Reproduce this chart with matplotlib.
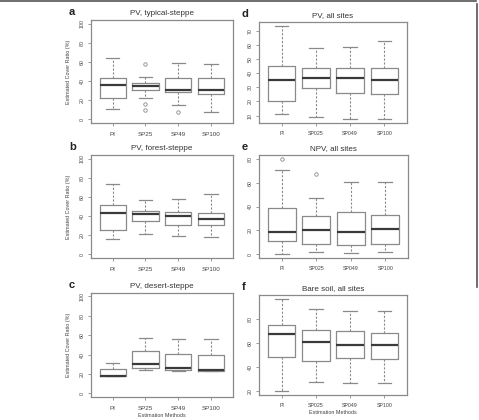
import matplotlib
matplotlib.use("Agg")
import matplotlib.pyplot as plt
from matplotlib.lines import Line2D

plt.rcParams["font.family"] = ["Liberation Sans", "DejaVu Sans"]

# box stats: (whislo, q1, med, q3, whishi, fliers)
LABELS_L = ["PI", "SP25", "SP49", "SP100"]
LABELS_R = ["PI", "SP025", "SP049", "SP100"]

A_TYPICAL = [(11, 22, 35.7, 43.6, 64, []),
             (22, 30.7, 35, 38, 44.6, [58, 16, 9.6]),
             (14.6, 29, 31, 43.6, 58.6, [7.5]),
             (7.5, 26.4, 30.7, 43.6, 57.5, [])]
B_FOREST = [(15.7, 25.4, 43.6, 52, 73.6, []),
            (21.8, 35.4, 42, 45, 57, []),
            (19, 31, 40.4, 44.6, 57.9, []),
            (18.2, 30.4, 37.5, 43.6, 62.9, [])]
C_DESERT = [(17.5, 17.7, 18.4, 25, 31.6, []),
            (24.3, 26.4, 30.2, 43.4, 57.3, []),
            (22.9, 24.3, 26.7, 40.3, 55.9, []),
            (23.4, 23.6, 24, 40, 55.9, [])]
D_PV_ALL = [(11, 20.6, 35.4, 45, 73.5, []),
            (9, 29.5, 36.6, 43.6, 57.8, []),
            (7.2, 26, 36.6, 44, 58.7, []),
            (7.4, 25.3, 35, 43.9, 63, [])]
E_NPV_ALL = [(0, 11.1, 18.9, 38.6, 70.3, [80]),
             (2, 8.3, 20.3, 31.7, 46.9, [67]),
             (1.4, 7.7, 18.9, 35.1, 60.9, []),
             (1.7, 8.3, 21.4, 32.9, 60.9, [])]
F_SOIL_ALL = [(20, 48.6, 67.5, 75.1, 96.9, []),
              (27.4, 44.8, 60.9, 70.5, 88.7, []),
              (27.1, 47.3, 58.5, 69.9, 86.8, []),
              (26.5, 46.5, 58.2, 68.5, 86.3, [])]

W, H = 479, 420
fig = plt.figure(figsize=(W / 100, H / 100), dpi=100)

# axes boxes in pixels: (left, top, right, bottom)
panels = [
    ("a", "PV, typical-steppe", A_TYPICAL, LABELS_L, (91, 20, 232.7, 123), (-4, 104), range(0, 101, 20), True, False),
    ("b", "PV, forest-steppe", B_FOREST, LABELS_L, (91, 155, 232.7, 258.3), (-4, 104), range(0, 101, 20), True, False),
    ("c", "PV, desert-steppe", C_DESERT, LABELS_L, (91, 292.5, 232.7, 397.3), (-4, 104), range(0, 101, 20), True, True),
    ("d", "PV, all sites", D_PV_ALL, LABELS_R, (259, 22.3, 407, 123.3), (4.5, 76.2), range(10, 71, 10), False, False),
    ("e", "NPV, all sites", E_NPV_ALL, LABELS_R, (259, 155, 408, 258), (-3.2, 83.2), range(0, 81, 20), False, False),
    ("f", "Bare soil, all sites", F_SOIL_ALL, LABELS_R, (259, 295, 407, 395), (16.9, 100), range(20, 81, 20), False, True),
]

GRAY = "#8a8a8a"
TXT = "#444444"

for letter, title, data, labels, (l, t, r, b), ylim, yt, ylab, xlab in panels:
    ax = fig.add_axes([l / W, 1 - b / H, (r - l) / W, (b - t) / H])
    stats = [dict(whislo=s[0], q1=s[1], med=s[2], q3=s[3], whishi=s[4], fliers=s[5], label=lb)
             for s, lb in zip(data, labels)]
    ax.bxp(stats, positions=[1, 2, 3, 4], widths=0.8, capwidths=0.4,
           boxprops=dict(color=GRAY, lw=0.9),
           medianprops=dict(color="#3a3a3a", lw=1.6),
           whiskerprops=dict(color=GRAY, lw=0.8, ls=(0, (2, 1.5))),
           capprops=dict(color=GRAY, lw=0.9),
           flierprops=dict(marker="o", markersize=2.5, markerfacecolor="none",
                           markeredgecolor=GRAY, markeredgewidth=0.6))
    ax.set_xlim(0.34, 4.66)
    ax.set_ylim(*ylim)
    ax.set_yticks(list(yt))
    ax.set_yticklabels([str(v) for v in yt], rotation=90, va="center")
    ax.set_xticks([1, 2, 3, 4])
    ax.set_xticklabels(labels)
    for sp in ax.spines.values():
        sp.set_color(GRAY)
        sp.set_linewidth(0.9)
    ax.tick_params(axis="both", colors=GRAY, labelcolor=TXT, length=2.5, width=0.6,
                   labelsize=3.8, pad=2)
    if letter in "abc":
        ax.tick_params(axis="x", labelsize=4.5, pad=4)
    else:
        ax.tick_params(axis="x", pad=3)
    ax.set_title(title, fontsize=5.8, color="#333333", pad=3.5)
    if ylab:
        ax.set_ylabel("Estimated Cover Ratio (%)", fontsize=3.9, color=TXT, labelpad=6)
    if xlab:
        ax.set_xlabel("Estimation Methods", fontsize=3.9, color=TXT, labelpad=1.5)
    lx = (69 if letter in "abc" else 242) / W
    fig.text(lx, 1 - (t - 8) / H, letter, fontsize=8, fontweight="bold",
             color="#222222", va="center", ha="left")

# partial frame of the original figure (top and right edges)
fig.add_artist(Line2D([0, 1 - 3 / W], [1 - 1 / H, 1 - 1 / H], transform=fig.transFigure,
                      color="#555555", lw=1.2))
fig.add_artist(Line2D([1 - 2 / W, 1 - 2 / W], [1 - 4 / H, 1 - 287 / H], transform=fig.transFigure,
                      color="#555555", lw=1.2))

fig.savefig("out.png", dpi=100)
